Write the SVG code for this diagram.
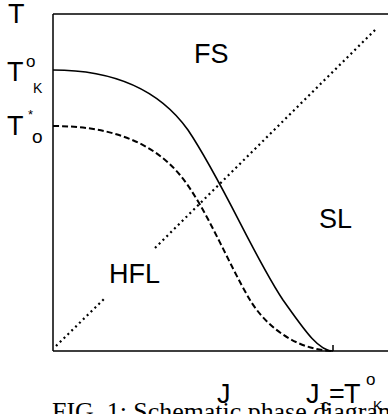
<svg xmlns="http://www.w3.org/2000/svg" width="388" height="414" viewBox="0 0 388 414">
<style>
.ax{stroke:#000;stroke-width:1.5;fill:none}
.lbl{font-family:"Liberation Sans",Arial,sans-serif;font-size:27px;fill:#000}
.sm{font-family:"Liberation Sans",Arial,sans-serif;fill:#000}
.cap{font-family:"Liberation Serif","Times New Roman",serif;font-size:25px;fill:#000}
.solid{stroke:#000;stroke-width:1.6;fill:none}
.dash{stroke:#000;stroke-width:2;fill:none;stroke-dasharray:6 3}
.dot{stroke:#000;stroke-width:2.2;fill:none;stroke-dasharray:2 3.4}
</style>
<rect width="388" height="414" fill="#fff"/>
<g id="axes">
<path class="ax" d="M53,14 V351 M53,14 H388 M53,351 H388 M333,345 V351"/>
</g>
<g id="connectors">
<path id="solid-curve" class="solid" d="M53,70 C110,70 158,88 188,130 C223,182 253,255 283,300 C303,328 318,351 333,351"/>
<path id="dashed-curve" class="dash" d="M53,126 C105,126 150,139 180,175 C205,205 228,263 250,300 C265,325 295,350 333,351"/>
<path id="dotted-line" class="dot" d="M56,346 L104,299 M155,248 L376,29"/>
</g>
<g id="labels">
<text class="lbl" x="8" y="23">T</text>
<g id="TK"><text class="lbl" x="7" y="81">T</text><text class="sm" x="26" y="67" font-size="17">o</text><text class="sm" x="33" y="93" font-size="14">K</text></g>
<g id="To"><text class="lbl" x="7" y="135">T</text><text class="sm" x="28" y="119" font-size="13">*</text><text class="sm" x="32" y="143" font-size="19">o</text></g>
<text id="FS" class="lbl" x="194" y="63">FS</text>
<text id="SL" class="lbl" x="319" y="228">SL</text>
<text id="HFL" class="lbl" x="109" y="283">HFL</text>
<text id="J" class="lbl" x="217" y="403">J</text>
<g id="Jc"><text class="lbl" x="306" y="403">J</text><text class="sm" x="321" y="411" font-size="17">c</text><text class="lbl" x="329" y="403">=</text><text class="lbl" x="344" y="403">T</text><text class="sm" x="366" y="385" font-size="17">o</text><text class="sm" x="373" y="411" font-size="14">K</text></g>
</g>
<text class="cap" x="52" y="420" textLength="346" lengthAdjust="spacingAndGlyphs">FIG. 1: Schematic phase diagram</text>
</svg>
